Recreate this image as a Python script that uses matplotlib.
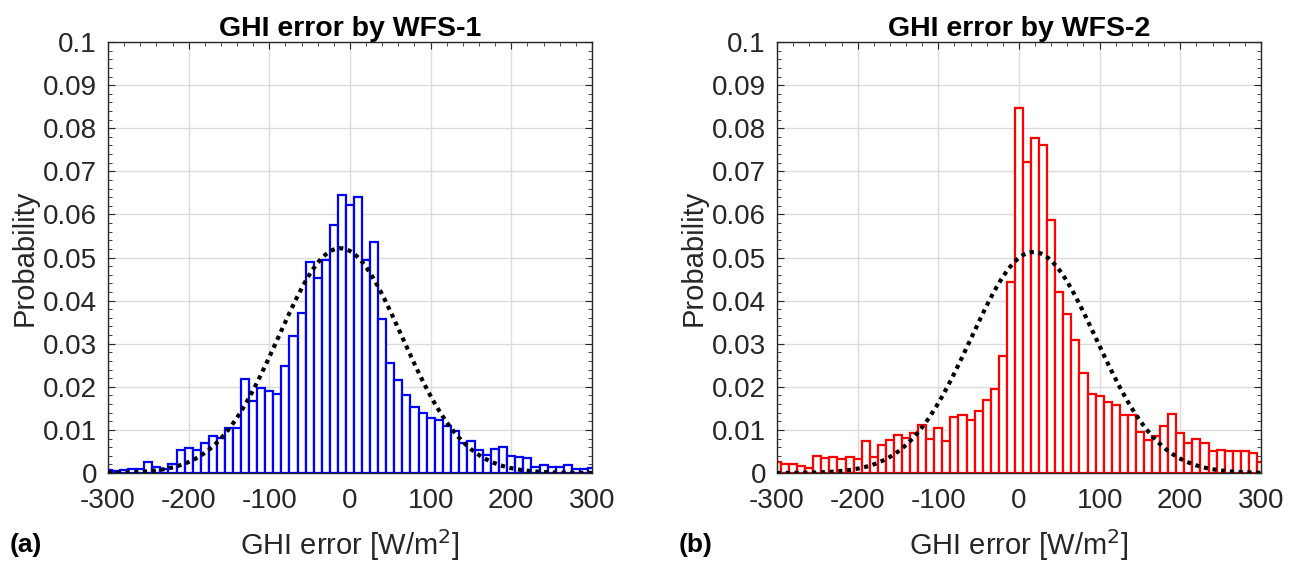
import numpy as np
import matplotlib
matplotlib.use("Agg")
import matplotlib.pyplot as plt
from matplotlib.ticker import MultipleLocator, FuncFormatter

plt.rcParams['font.family'] = ['Liberation Sans', 'DejaVu Sans']
plt.rcParams['axes.unicode_minus'] = False

# bin centres (bin width 10 W/m2)
bin_width = 10
centers = np.arange(-300, 301, 10)

# WFS-1 histogram (probability per bin)
prob_wfs1 = [0.0006, 0.0005, 0.0006, 0.0010, 0.0010, 0.0025, 0.0014, 0.0009, 0.0020, 0.0054,
             0.0057, 0.0054, 0.0070, 0.0085, 0.0082, 0.0105, 0.0105, 0.0217, 0.0168, 0.0198,
             0.0190, 0.0183, 0.0248, 0.0318, 0.0372, 0.0490, 0.0452, 0.0494, 0.0575, 0.0645,
             0.0622, 0.0640, 0.0495, 0.0535, 0.0358, 0.0256, 0.0216, 0.0182, 0.0154, 0.0139,
             0.0128, 0.0123, 0.0110, 0.0098, 0.0070, 0.0074, 0.0054, 0.0042, 0.0055, 0.0060,
             0.0040, 0.0038, 0.0036, 0.0014, 0.0019, 0.0015, 0.0015, 0.0018, 0.0009, 0.0009,
             0.0012]

# WFS-2 histogram (probability per bin)
prob_wfs2 = [0.0025, 0.0022, 0.0022, 0.0016, 0.0012, 0.0040, 0.0035, 0.0037, 0.0032, 0.0037,
             0.0032, 0.0074, 0.0037, 0.0064, 0.0077, 0.0088, 0.0082, 0.0092, 0.0112, 0.0079,
             0.0104, 0.0074, 0.0129, 0.0134, 0.0122, 0.0145, 0.0169, 0.0196, 0.0271, 0.0443,
             0.0848, 0.0722, 0.0778, 0.0762, 0.0587, 0.0419, 0.0368, 0.0308, 0.0233, 0.0183,
             0.0179, 0.0164, 0.0158, 0.0135, 0.0135, 0.0095, 0.0077, 0.0085, 0.0110, 0.0137,
             0.0092, 0.0069, 0.0079, 0.0070, 0.0050, 0.0054, 0.0050, 0.0050, 0.0050, 0.0046,
             0.0025]

# fitted normal distributions (mean, std) in W/m2
fit_wfs1 = (-12, 76.5)
fit_wfs2 = (18, 77.8)

titles = ["GHI error by WFS-1", "GHI error by WFS-2"]
panel_tags = ["(a)", "(b)"]
colors = ["#0000ff", "#ff0000"]

fig = plt.figure(figsize=(12.95, 5.65), dpi=100)
axes = [fig.add_axes([0.0834, 0.1628, 0.3737, 0.7628]),
        fig.add_axes([0.6000, 0.1628, 0.3737, 0.7628])]

for ax, probs, fit, title, tag, col in zip(axes, [prob_wfs1, prob_wfs2],
                                           [fit_wfs1, fit_wfs2], titles, panel_tags, colors):
    ax.bar(centers, probs, width=bin_width, color="white", edgecolor=col,
           linewidth=1.6, zorder=2)
    mu, sd = fit
    xx = np.linspace(-300, 300, 400)
    yy = bin_width * np.exp(-0.5 * ((xx - mu) / sd) ** 2) / (sd * np.sqrt(2 * np.pi))
    ax.plot(xx, yy, color="black", linestyle=(0, (1, 1.1)), linewidth=3, zorder=3)

    ax.set_xlim(-300, 300)
    ax.set_ylim(0, 0.1)
    ax.xaxis.set_major_locator(MultipleLocator(100))
    ax.xaxis.set_minor_locator(MultipleLocator(20))
    ax.yaxis.set_major_locator(MultipleLocator(0.01))
    ax.yaxis.set_minor_locator(MultipleLocator(0.002))
    ax.yaxis.set_major_formatter(FuncFormatter(lambda v, p: f"{v:g}"))
    ax.tick_params(which="both", direction="in", top=True, right=True, color="#262626")
    ax.tick_params(which="major", length=5, labelsize=20, labelcolor="#262626")
    ax.tick_params(axis="y", which="major", pad=8)
    ax.tick_params(axis="x", which="major", pad=11)
    ax.tick_params(which="minor", length=3)
    ax.grid(True, which="major", color="#dcdcdc", linewidth=1, zorder=0)
    ax.set_axisbelow(True)
    for s in ax.spines.values():
        s.set_color("#262626")
        s.set_linewidth(1)

    ax.set_title(title, fontsize=20.5, fontweight="bold", pad=4)
    ax.set_ylabel("Probability", fontsize=21, color="#262626", labelpad=3)
    ax.set_xlabel("GHI error [W/m$^2$]", fontsize=21, color="#262626", labelpad=9)
    ax.text(-0.2025, -0.167, tag, transform=ax.transAxes, fontsize=19,
            fontweight="bold", va="center", ha="left")

fig.savefig("out.png", dpi=100)
